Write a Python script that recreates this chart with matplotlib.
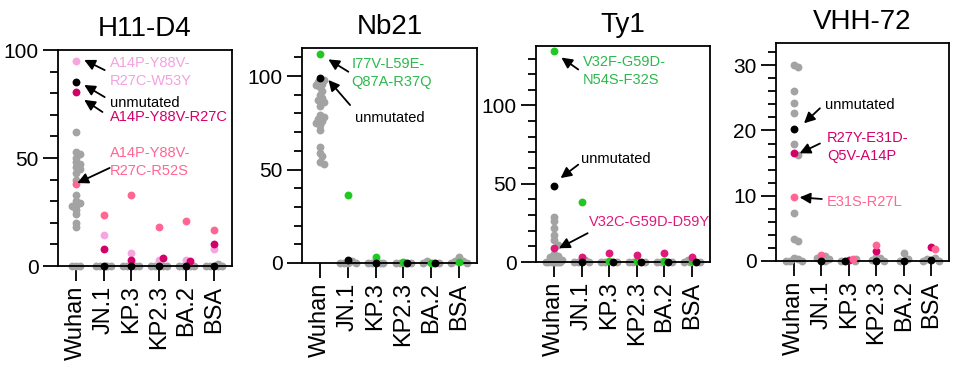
import matplotlib
matplotlib.use('Agg')
import matplotlib.pyplot as plt
from matplotlib.ticker import MultipleLocator
import numpy as np

plt.rcParams['font.family'] = ['Liberation Sans', 'DejaVu Sans']

categories = ['Wuhan', 'JN.1', 'KP.3', 'KP2.3', 'BA.2', 'BSA']
titles = ['H11-D4', 'Nb21', 'Ty1', 'VHH-72']

# ---------------- H11-D4 ----------------
h11_gray = [
    [62, 53, 52, 50, 48, 47, 46, 45, 43, 40, 33, 30, 29, 28, 28, 26, 24, 20, 18, 0, 0, 0],
    [0, 0, 0, 0, 0],
    [0, 0, 0, 0],
    [0, 0, 0, 0],
    [0, 0, 0, 0],
    [0, 0, 0, 0, 1],
]
h11_unmutated = [85, 0, 0, 0, 0, 0]
h11_w53y = [95, 14.5, 6, 3, 2.7, 8]
h11_r27c = [80.5, 8, 3, 3.5, 2.3, 10]
h11_r52s = [38, 23.5, 33, 18, 21, 16.5]

# ---------------- Nb21 ----------------
nb21_gray = [
    [98, 97, 96, 95, 94, 92, 90, 88, 87, 86, 84, 79, 78, 77, 76, 75, 74, 71, 62, 59, 57, 54, 53],
    [0, 0, 0, 0, 1],
    [0, 0, 0, 0],
    [0, 0, 0, 0],
    [0, 0, 0, 1],
    [0, 0, 1, 1, 3],
]
nb21_unmutated = [99, 1.5, 0, 0, 0, None]
nb21_i77v = [112, 36.5, 3, 0.5, 0, 0.5]

# ---------------- Ty1 ----------------
ty1_gray = [
    [29, 26, 22, 17, 14, 11, 5, 4, 3, 2, 1, 1, 0.5, 0, 0, 0, 0, 0, 0, 0],
    [0, 0, 0, 1],
    [0, 0, 0],
    [0, 0, 0],
    [0, 0, 0],
    [0, 0, 0, 1],
]
ty1_unmutated = [48.3, 0, 0, 0, 0, 0]
ty1_v32f = [134.5, 38.3, 0.5, 0.5, 0.5, 0.5]
ty1_v32c = [9, 3.5, 5.5, 4.5, 5.5, 3]

# ---------------- VHH-72 ----------------
vhh_gray = [
    [30, 29.7, 26, 24.2, 22.7, 18, 16.3, 7.4, 3.3, 3, 0.5, 0.3, 0, 0, 0],
    [0.8, 0.5, 0.3, 0],
    [0.3, 0, 0],
    [0.6, 0.4, 0.2, 0],
    [1.2, 0.3, 0],
    [0.5, 0.3, 0, 0],
]
vhh_unmutated = [20.3, 0, 0, 0, 0, 0.2]
vhh_r27y = [16.5, None, 0.1, 1.6, None, 2.1]
vhh_e31s = [9.75, 0.9, 0.3, 2.4, None, 1.8]

# ---------------- styling ----------------
GRAY = '#A3A3A3'
BLACK = '#000000'
LPINK = '#F6A6DF'
DMAG = '#D4006A'
PINK = '#FF6694'
GREEN = '#22C822'
GREEN_T = '#2DB84D'
MAG = '#E0197A'

FIG_W, FIG_H = 959, 380
fig = plt.figure(figsize=(FIG_W / 100, FIG_H / 100), dpi=100)

# axes boxes in pixels: left, right, top, bottom
boxes = [(58, 232, 50, 266), (302, 477, 48, 263), (536, 710, 46, 262), (776, 949, 43, 261)]
ytops = [100, 115, 138, 33.4]
ymajor = [50, 50, 50, 10]
yminor = [10, 10, 10, 2]
XLIM = (-0.65, 5.65)


def swarm(vals, xscale, yscale, step=0.07, mind=3.8, maxoff=0.3):
    placed = []
    offs = []
    cands = [0.0]
    k = 1
    while k * step <= maxoff + 1e-9:
        cands += [k * step, -k * step]
        k += 1
    for v in vals:
        chosen = None
        fb, fbd = 0.0, -1
        for c in cands:
            if placed:
                d = min(np.hypot((c - pc) * xscale, (v - pv) * yscale) for pc, pv in placed)
            else:
                d = 1e9
            if d >= mind:
                chosen = c
                break
            if d > fbd:
                fbd, fb = d, c
        if chosen is None:
            chosen = fb
        placed.append((chosen, v))
        offs.append(chosen)
    return offs


def draw_panel(ax, box, ytop, gray, colored):
    l, r, t, b = box
    xscale = (r - l) / (XLIM[1] - XLIM[0])
    yscale = (b - t) / ytop
    for ci in range(len(categories)):
        pts = []
        for vals, col, z in colored:
            v = vals[ci]
            if v is not None:
                pts.append((v, col, z))
        for v in sorted(gray[ci], reverse=True):
            pts.append((v, GRAY, 2))
        offs = swarm([p[0] for p in pts], xscale, yscale)
        for (v, col, z), o in zip(pts, offs):
            ax.scatter(ci + o, v, s=32, color=col, linewidths=0, zorder=z, clip_on=False)


def style_axes(ax, ytop, major, minor, title):
    ax.set_xlim(*XLIM)
    ax.set_ylim(0, ytop)
    ax.set_xticks(range(len(categories)))
    ax.set_xticklabels(categories, rotation=90)
    ax.yaxis.set_major_locator(MultipleLocator(major))
    ax.yaxis.set_minor_locator(MultipleLocator(minor))
    ax.tick_params(axis='y', which='major', length=11, width=1.3, labelsize=15, pad=3, direction='out')
    ax.tick_params(axis='y', which='minor', length=6, width=1.3, direction='out')
    ax.tick_params(axis='x', which='major', length=11, width=1.3, labelsize=17, pad=3, direction='out')
    for sp in ax.spines.values():
        sp.set_linewidth(1.3)
    ax.set_title(title, fontsize=20, pad=10)


def arrow(ax, tail, head):
    ax.annotate('', xy=head, xytext=tail,
                arrowprops=dict(arrowstyle='-|>', color='black', lw=1.3,
                                mutation_scale=16, shrinkA=0, shrinkB=0))


def label(ax, x, y, s, color):
    ax.text(x, y, s, color=color, fontsize=10.5, ha='left', va='center', linespacing=1.35)


axes = []
for box in boxes:
    l, r, t, b = box
    axes.append(fig.add_axes([l / FIG_W, 1 - b / FIG_H, (r - l) / FIG_W, (b - t) / FIG_H]))

# Panel 1
ax = axes[0]
draw_panel(ax, boxes[0], ytops[0], h11_gray,
           [(h11_w53y, LPINK, 3), (h11_r52s, PINK, 3), (h11_r27c, DMAG, 4), (h11_unmutated, BLACK, 5)])
style_axes(ax, ytops[0], ymajor[0], yminor[0], titles[0])
label(ax, 1.22, 90, 'A14P-Y88V-\nR27C-W53Y', '#F3A2E0')
arrow(ax, (1.04, 90.7), (0.30, 95.4))
label(ax, 1.22, 75.5, 'unmutated', 'black')
arrow(ax, (1.04, 78.2), (0.30, 83.8))
label(ax, 1.22, 69, 'A14P-Y88V-R27C', DMAG)
arrow(ax, (0.96, 71.3), (0.30, 76.9))
label(ax, 1.22, 48.2, 'A14P-Y88V-\nR27C-R52S', PINK)
arrow(ax, (1.22, 45.4), (0.05, 38.4))

# Panel 2
ax = axes[1]
draw_panel(ax, boxes[1], ytops[1], nb21_gray,
           [(nb21_i77v, GREEN, 3), (nb21_unmutated, BLACK, 5)])
style_axes(ax, ytops[1], ymajor[1], yminor[1], titles[1])
label(ax, 1.14, 101.5, 'I77V-L59E-\nQ87A-R37Q', GREEN_T)
arrow(ax, (1.02, 102.3), (0.30, 108.9))
label(ax, 1.26, 77.4, 'unmutated', 'black')
arrow(ax, (1.08, 84.5), (0.30, 97.9))

# Panel 3
ax = axes[2]
draw_panel(ax, boxes[2], ytops[2], ty1_gray,
           [(ty1_v32f, GREEN, 3), (ty1_v32c, MAG, 4), (ty1_unmutated, BLACK, 5)])
style_axes(ax, ytops[2], ymajor[2], yminor[2], titles[2])
label(ax, 1.04, 122, 'V32F-G59D-\nN54S-F32S', GREEN_T)
arrow(ax, (0.88, 123), (0.27, 130.6))
label(ax, 0.98, 65.8, 'unmutated', 'black')
arrow(ax, (0.88, 62.2), (0.24, 53.6))
label(ax, 1.28, 25.8, 'V32C-G59D-D59Y', MAG)
arrow(ax, (1.22, 18.4), (0.18, 8.8))

# Panel 4
ax = axes[3]
draw_panel(ax, boxes[3], ytops[3], vhh_gray,
           [(vhh_r27y, DMAG, 3), (vhh_e31s, PINK, 4), (vhh_unmutated, BLACK, 5)])
style_axes(ax, ytops[3], ymajor[3], yminor[3], titles[3])
label(ax, 1.14, 23.9, 'unmutated', 'black')
arrow(ax, (0.95, 23.4), (0.37, 21.1))
label(ax, 1.2, 17.5, 'R27Y-E31D-\nQ5V-A14P', DMAG)
arrow(ax, (0.95, 18.0), (0.21, 16.5))
label(ax, 1.2, 9.1, 'E31S-R27L', PINK)
arrow(ax, (1.02, 9.5), (0.21, 9.75))

fig.savefig('out.png', dpi=100)
